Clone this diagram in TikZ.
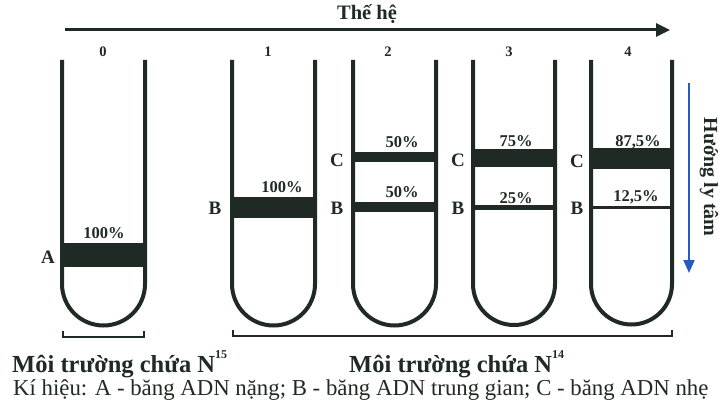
\documentclass[tikz,border=0pt]{standalone}
\usepackage{fontspec}
\setmainfont{Liberation Serif}
\usetikzlibrary{arrows.meta}
\definecolor{ink}{RGB}{32,42,36}
\definecolor{arrowblue}{RGB}{40,90,190}
\begin{document}
\begin{tikzpicture}[x=1pt,y=-1pt,
  wall/.style={draw=ink, line width=4pt},
  brk/.style={draw=ink, line width=2pt},
  num/.style={font=\bfseries\fontsize{14.5}{16}\selectfont, text=ink, inner sep=0pt},
  pct/.style={font=\bfseries\fontsize{16.5}{18}\selectfont, text=ink, inner sep=0pt},
  lbl/.style={font=\bfseries\fontsize{19}{21}\selectfont, text=ink, inner sep=0pt},
  bigtxt/.style={font=\bfseries\fontsize{24.5}{26}\selectfont, text=ink, inner sep=0pt, anchor=base west},
  legend/.style={font=\fontsize{22.8}{24}\selectfont, text=ink, inner sep=0pt, anchor=base west}]
\fill[white] (0,0) rectangle (727,409);
\useasboundingbox (0,0) rectangle (727,409);

% top arrow
\coordinate (ta) at (65,30);
\coordinate (tb) at (670,30);
\draw[ink, line width=3pt, -{Triangle[length=14pt,width=13pt]}] (ta) -- (tb);
\node[font=\bfseries\fontsize{20.5}{22}\selectfont, text=ink, inner sep=0pt] (title) at (367,14) {Thế hệ};

% generation numbers
\node[num] (g0) at (103,52) {0};
\node[num] (g1) at (268,52) {1};
\node[num] (g2) at (388,52) {2};
\node[num] (g3) at (509,52) {3};
\node[num] (g4) at (628,52) {4};

% bands
\fill[ink] (62,243) rectangle (145,267);
\fill[ink] (232,197) rectangle (315,218);
\fill[ink] (353,152) rectangle (436,162);
\fill[ink] (353,202) rectangle (436,212);
\fill[ink] (473,149) rectangle (555,167);
\fill[ink] (473,205) rectangle (555,210);
\fill[ink] (591,148) rectangle (672,169);
\fill[ink] (591,206) rectangle (672,208.5);

% tubes
\draw[wall] (62,60) -- (62,284) arc[start angle=180,end angle=0,radius=41.5] -- (145,60);
\draw[wall] (232,60) -- (232,284) arc[start angle=180,end angle=0,radius=41.5] -- (315,60);
\draw[wall] (353,60) -- (353,284) arc[start angle=180,end angle=0,radius=41.5] -- (436,60);
\draw[wall] (473,60) -- (473,284) arc[start angle=180,end angle=0,radius=41] -- (555,60);
\draw[wall] (591,60) -- (591,284) arc[start angle=180,end angle=0,radius=40.5] -- (672,60);

% percentages
\node[pct] (p0) at (104,233) {100\%};
\node[pct] (p1) at (282,187) {100\%};
\node[pct] (p2c) at (402,142) {50\%};
\node[pct] (p2b) at (402,192) {50\%};
\node[pct] (p3c) at (516,141) {75\%};
\node[pct] (p3b) at (516,198) {25\%};
\node[pct] (p4c) at (638,142) {87,5\%};
\node[pct] (p4b) at (636,197) {12,5\%};

% band letters
\node[lbl] (l0a) at (48,257) {A};
\node[lbl] (l1b) at (215,208) {B};
\node[lbl] (l2c) at (337,160) {C};
\node[lbl] (l2b) at (337,208) {B};
\node[lbl] (l3c) at (458,160) {C};
\node[lbl] (l3b) at (458,208) {B};
\node[lbl] (l4c) at (577,161) {C};
\node[lbl] (l4b) at (577,208) {B};

% centrifugal direction
\coordinate (da) at (689,83);
\coordinate (db) at (689,273);
\draw[arrowblue, line width=2pt, -{Triangle[length=13pt,width=11pt]}] (da) -- (db);
\node[rotate=-90, font=\bfseries\fontsize{20}{22}\selectfont, text=ink, inner sep=0pt] (dir) at (709,177) {Hướng ly tâm};

% brackets
\draw[brk] (63,331) -- (63,337) -- (144,337) -- (144,331);
\draw[brk] (233,330) -- (233,336) -- (672,336) -- (672,330);

% captions
\node[bigtxt] (env15) at (12,372) {Môi trường chứa N\raisebox{14pt}{\fontsize{12}{12}\selectfont 15}};
\node[bigtxt] (env14) at (349,372) {Môi trường chứa N\raisebox{14pt}{\fontsize{12}{12}\selectfont 14}};
\node[legend] (key) at (13,395) {Kí hiệu: A - băng ADN nặng; B - băng ADN trung gian; C - băng ADN nhẹ};
\end{tikzpicture}
\end{document}
